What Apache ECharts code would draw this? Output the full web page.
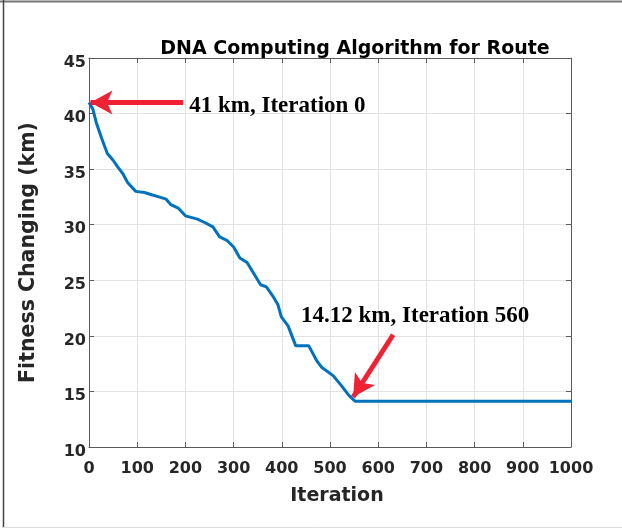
<!DOCTYPE html>
<html>
<head>
<meta charset="utf-8">
<script src="https://cdn.jsdelivr.net/npm/echarts@6/dist/echarts.min.js"></script>
<style>
  html, body { margin: 0; padding: 0; background: #ffffff; }
  #chart { width: 622px; height: 530px; }
</style>
</head>
<body>
<div id="chart"></div>
<script>
// Best route length (km) recorded at each iteration
const iterations = [0, 8, 15, 26, 38, 50, 58, 70, 80, 97, 115, 130, 145, 160, 170, 185, 200, 225, 240, 257,
  271, 286, 300, 313, 328, 356, 368, 381, 392, 399, 413, 429, 456, 472, 482, 507, 524, 540, 552, 560, 1000];
const fitness = [41.0, 40.4, 39.2, 37.8, 36.4, 35.8, 35.3, 34.6, 33.8, 33.0, 32.9, 32.7, 32.5, 32.3, 31.8, 31.5, 30.8, 30.5, 30.2, 29.8,
  28.9, 28.6, 28.0, 27.0, 26.6, 24.6, 24.4, 23.6, 22.8, 21.7, 20.9, 19.1, 19.1, 17.8, 17.2, 16.4, 15.5, 14.6, 14.12, 14.12, 14.12];

const xTicks = [0, 100, 200, 300, 400, 500, 600, 700, 800, 900, 1000];
const yTicks = [10, 15, 20, 25, 30, 35, 40, 45];

// Annotated points: start and convergence
const startNote = { iter: 0, value: 41, text: '41 km, Iteration 0' };
const endNote = { iter: 560, value: 14.12, text: '14.12 km, Iteration 560' };

const chart = echarts.init(document.getElementById('chart'));

const sans = '"DejaVu Sans", "Liberation Sans", Arial, sans-serif';
const serif = '"Liberation Serif", "Times New Roman", serif';
const axisGray = '#5a5a5a';
const gridGray = '#e3e3e3';
const arrowRed = '#ee2233';

const tickLabel = { fontFamily: sans, fontWeight: 'bold', fontSize: 16, color: '#262626' };

function baseX(extra) {
  return Object.assign({
    type: 'value', min: xTicks[0], max: xTicks[xTicks.length - 1], interval: 100,
    axisLine: { show: true, onZero: false, lineStyle: { color: axisGray, width: 1 } },
    axisTick: { show: true, inside: true, length: 5, lineStyle: { color: axisGray } },
    splitLine: { show: false }
  }, extra);
}
function baseY(extra) {
  return Object.assign({
    type: 'value', min: yTicks[0], max: yTicks[yTicks.length - 1], interval: 5,
    axisLine: { show: true, onZero: false, lineStyle: { color: axisGray, width: 1 } },
    axisTick: { show: true, inside: true, length: 5, lineStyle: { color: axisGray } },
    splitLine: { show: false }
  }, extra);
}

chart.setOption({
  backgroundColor: '#ffffff',
  animation: false,
  title: {
    text: 'DNA Computing Algorithm for Route',
    left: 350, top: 35, textAlign: 'center',
    textStyle: { fontFamily: sans, fontWeight: 'bold', fontSize: 19, color: '#000000' }
  },
  grid: { left: 89, right: 51, top: 58, bottom: 83 },
  xAxis: [
    baseX({
      position: 'bottom',
      name: 'Iteration', nameLocation: 'middle', nameGap: 40,
      nameTextStyle: { fontFamily: sans, fontWeight: 'bold', fontSize: 19, color: '#262626', padding: [0, 0, 0, 14] },
      axisLabel: Object.assign({ margin: 14, formatter: v => String(v) }, tickLabel),
      splitLine: { show: true, lineStyle: { color: gridGray, width: 1 } }
    }),
    baseX({ position: 'top', axisLabel: { show: false } })
  ],
  yAxis: [
    baseY({
      position: 'left',
      name: 'Fitness Changing (km)', nameLocation: 'middle', nameGap: 50, nameRotate: 90,
      nameTextStyle: { fontFamily: sans, fontWeight: 'bold', fontSize: 20.5, color: '#262626' },
      axisLabel: {
        margin: 3,
        formatter: v => '{s|' + v + '}',
        rich: { s: Object.assign({ padding: [9, 0, 0, 0] }, tickLabel) }
      },
      splitLine: { show: true, lineStyle: { color: gridGray, width: 1 } }
    }),
    baseY({ position: 'right', axisLabel: { show: false } })
  ],
  graphic: [
    { type: 'line', shape: { x1: 0, y1: 1.5, x2: 622, y2: 1.5 }, style: { stroke: '#777777', lineWidth: 2 }, silent: true },
    { type: 'line', shape: { x1: 3.5, y1: 0, x2: 3.5, y2: 528 }, style: { stroke: '#444444', lineWidth: 1.5 }, silent: true },
    { type: 'line', shape: { x1: 3, y1: 527.5, x2: 622, y2: 527.5 }, style: { stroke: '#dddddd', lineWidth: 1 }, silent: true }
  ],
  series: [
    {
      type: 'line',
      data: iterations.map((it, i) => [it, fitness[i]]),
      showSymbol: false,
      symbol: 'none',
      smooth: false,
      lineStyle: { color: '#0072BD', width: 3 },
      z: 3,
      markLine: {
        silent: true,
        symbol: ['none', 'arrow'],
        symbolSize: [18, 22],
        lineStyle: { color: arrowRed, width: 5, type: 'solid' },
        label: { show: false },
        data: [
          [{ coord: [195, startNote.value] }, { coord: [startNote.iter + 3, startNote.value] }],
          [{ coord: [631, 20.1] }, { coord: [548, 14.5] }]
        ],
        z: 5
      },
      markPoint: {
        silent: true,
        symbol: 'circle',
        symbolSize: 0,
        itemStyle: { color: 'transparent' },
        label: {
          show: true, position: 'right', distance: 0,
          fontFamily: serif, fontWeight: 'bold', fontSize: 23, color: '#000000'
        },
        data: [
          { coord: [208, 40.67], label: { formatter: startNote.text } },
          { coord: [440, 21.82], label: { formatter: endNote.text } }
        ]
      }
    }
  ]
});
</script>
</body>
</html>
